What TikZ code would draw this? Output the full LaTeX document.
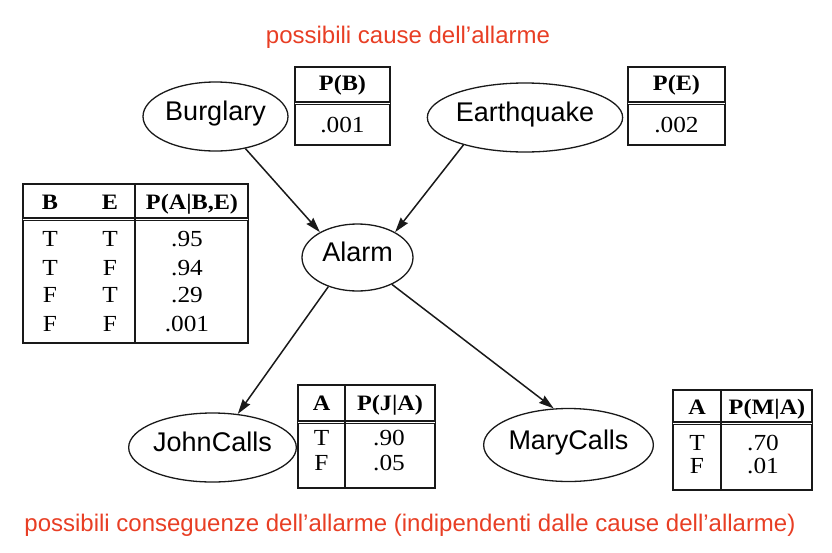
\documentclass[tikz,border=0pt]{standalone}
\usepackage{fontspec}
\setmainfont{Liberation Serif}
\newfontfamily\varfont{Liberation Sans}
\newfontfamily\cptfont[FakeStretch=1.1]{Liberation Serif}
\usepackage{tikz}
\usetikzlibrary{arrows.meta,shapes.geometric}
\usepackage{xcolor}
\tikzset{>={Stealth[length=15pt,width=9pt,inset=1.5pt]}}
\definecolor{notecolor}{RGB}{232,62,36}
\definecolor{inkcolor}{RGB}{25,25,25}
\tikzset{
  var/.style={ellipse, draw=inkcolor, line width=1.3pt, inner sep=0pt,
    minimum height=69pt, text height=20pt, text depth=12pt,
    font=\varfont\fontsize{27}{30}\selectfont},
  arc/.style={->, draw=inkcolor, line width=1.5pt},
  cpt/.style={draw=inkcolor, line width=1.2pt},
  cpthead/.style={draw=inkcolor, line width=1.2pt, double, double distance=1pt},
  cell/.style={inner sep=0pt, text height=15pt, text depth=0pt,
    font=\cptfont\fontsize{23}{26}\selectfont},
  hcell/.style={cell, font=\cptfont\bfseries\fontsize{22}{26}\selectfont},
  note/.style={text=notecolor, font=\varfont\fontsize{24}{28}\selectfont},
}

\begin{document}
\begin{tikzpicture}[x=1pt, y=-1pt]
\useasboundingbox (0,0) rectangle (832,552);

% Didascalie
\node[note] (cause) at (408,37) {possibili cause dell’allarme};
\node[note] (conseg) at (410,525) {possibili conseguenze dell’allarme (indipendenti dalle cause dell’allarme)};

% Variabili della rete
\node[var, minimum width=145pt] (burglary) at (215.5,116.5) {Burglary};
\node[var, minimum width=184pt] (earthquake) at (525,117.5) {Earthquake};
\node[var, minimum width=111pt, minimum height=67pt] (alarm) at (357.5,257.5) {Alarm};
\node[var, minimum width=165pt] (john) at (212.5,447.5) {JohnCalls};
\node[var, minimum width=167pt, minimum height=73pt] (mary) at (568.5,445) {MaryCalls};

% Archi
\draw[arc] (burglary.-47) -- (alarm.146);
\draw[arc] (earthquake.204) -- (alarm.34);
\draw[arc] (alarm.-135) -- (john.53);
\draw[arc] (alarm.-38) -- (mary.112);

% Tabella P(B)
\draw[cpt] (295,67) rectangle (390,145);
\draw[cpthead] (295,103) -- (390,103);
\node[hcell] (pb-h) at (342.5,83) {P(B)};
\node[cell] (pb-v) at (342.5,125) {.001};

% Tabella P(E)
\draw[cpt] (628,67) rectangle (725,145);
\draw[cpthead] (628,103) -- (725,103);
\node[hcell] (pe-h) at (676.5,83) {P(E)};
\node[cell] (pe-v) at (676.5,125) {.002};

% Tabella P(A|B,E)
\draw[cpt] (23,184) rectangle (248,343);
\draw[cpthead] (23,219) -- (248,219);
\draw[cpt] (135,184) -- (135,343);
\node[hcell] (pa-hb) at (50,202) {B};
\node[hcell] (pa-he) at (110,202) {E};
\node[hcell] (pa-hp) at (192,202) {P(A|B,E)};
\foreach \b/\e/\p/\y [count=\i] in {T/T/.95/239, T/F/.94/268, F/T/.29/295, F/F/.001/324} {
  \node[cell] (pa-b\i) at (50,\y) {\b};
  \node[cell] (pa-e\i) at (110,\y) {\e};
  \node[cell] (pa-p\i) at (187,\y) {\p};
}

% Tabella P(J|A)
\draw[cpt] (298,385) rectangle (435,488);
\draw[cpthead] (298,422) -- (435,422);
\draw[cpt] (345,385) -- (345,488);
\node[hcell] (pj-ha) at (321.5,403) {A};
\node[hcell] (pj-hp) at (390,403) {P(J|A)};
\foreach \a/\p/\y [count=\i] in {T/.90/437.5, F/.05/462.5} {
  \node[cell] (pj-a\i) at (321.5,\y) {\a};
  \node[cell] (pj-p\i) at (389,\y) {\p};
}

% Tabella P(M|A)
\draw[cpt] (673,390) rectangle (812,490);
\draw[cpthead] (673,423) -- (812,423);
\draw[cpt] (721,390) -- (721,490);
\node[hcell] (pm-ha) at (697,407) {A};
\node[hcell] (pm-hp) at (767,407) {P(M|A)};
\foreach \a/\p/\y [count=\i] in {T/.70/443, F/.01/465.5} {
  \node[cell] (pm-a\i) at (697,\y) {\a};
  \node[cell] (pm-p\i) at (763,\y) {\p};
}

\end{tikzpicture}
\end{document}
